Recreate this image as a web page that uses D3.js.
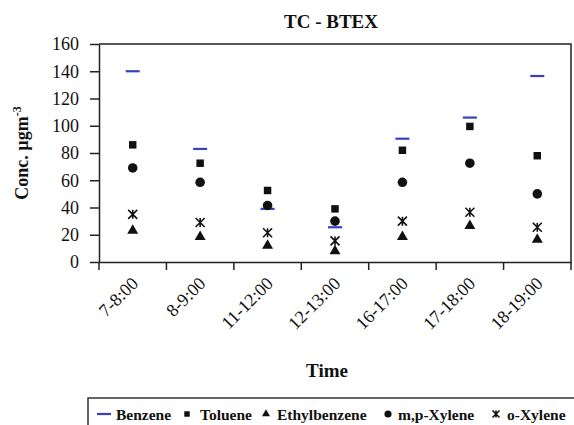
<!DOCTYPE html>
<html><head><meta charset="utf-8">
<script src="https://cdn.jsdelivr.net/npm/d3@7"></script>
<style>body{margin:0;background:#fff}svg{display:block}text{font-family:"Liberation Serif","Times New Roman",serif;fill:#111}</style>
</head><body><div id="chart"></div>
<script>
const categories = ["7-8:00","8-9:00","11-12:00","12-13:00","16-17:00","17-18:00","18-19:00"];
const benzene = [140, 83, 39, 25.5, 90.5, 106, 136.5];
const toluene = [86, 72.5, 52.5, 39, 82, 99.5, 78];
const ethylbenzene = [23, 18.5, 12, 8, 18.5, 26.5, 16.5];
const mpXylene = [69, 58.5, 41.5, 30, 58.5, 72.5, 50];
const oXylene = [35, 29, 21.5, 15.5, 30, 36.5, 25.5];
const yTicks = [0,20,40,60,80,100,120,140,160];
const seriesNames = ["Benzene","Toluene","Ethylbenzene","m,p-Xylene","o-Xylene"];

const W = 574, H = 425;
const m = {l: 99, r: 3, t: 44, b: 163};
const svg = d3.select("#chart").append("svg").attr("width", W).attr("height", H);
const x = d3.scaleBand().domain(categories).range([m.l, W - m.r]);
const y = d3.scaleLinear().domain([0,160]).range([H - m.b, m.t]);

// frame top/right
svg.append("path").attr("d", `M${m.l},${m.t}H${W-m.r}V${H-m.b}`).attr("fill","none").attr("stroke","#222").attr("stroke-width",1.5);

const yAx = svg.append("g").attr("transform",`translate(${m.l},0)`)
  .call(d3.axisLeft(y).tickValues(yTicks).tickSize(9).tickPadding(11).tickSizeOuter(0))
  .attr("font-family", null).attr("font-size", null);
yAx.selectAll("text").style("font-size","18px").style("font-family","'Liberation Serif', serif");
const xAx = svg.append("g").attr("transform",`translate(0,${H-m.b})`)
  .call(d3.axisBottom(x).tickSize(0).tickSizeOuter(0))
  .attr("font-family", null).attr("font-size", null);
xAx.selectAll("text").style("font-size","18px").style("font-family","'Liberation Serif', serif").attr("text-anchor","end")
  .attr("transform","translate(0,16) rotate(-45)").attr("dy","0.35em").attr("dx","0");
// ticks at band boundaries
const bounds = categories.map(c => x(c)).concat([x.range()[1]]);
xAx.selectAll(".bt").data(bounds).join("line").attr("class","bt")
  .attr("x1",d=>d).attr("x2",d=>d).attr("y1",0).attr("y2",8).attr("stroke","#222").attr("stroke-width",1.5);
svg.selectAll(".domain").attr("stroke","#222").attr("stroke-width",1.5);
svg.selectAll(".tick line").attr("stroke","#222").attr("stroke-width",1.5);

const cx = c => x(c) + x.bandwidth()/2;
// markers
const sym = {
  sq: d3.symbol().type(d3.symbolSquare).size(56),
  tri: d3.symbol().type(d3.symbolTriangle).size(52),
  circ: d3.symbol().type(d3.symbolCircle).size(72)
};
function star(g, s) {
  g.append("path").attr("d",`M${-s},${-s}L${s},${s}M${-s},${s}L${s},${-s}M0,${-s}V${s}`)
   .attr("stroke","#111").attr("stroke-width",1.6).attr("fill","none");
}
function dash(g, w) {
  g.append("line").attr("x1",-w/2).attr("x2",w/2).attr("stroke","#3a3fc0").attr("stroke-width",2.2);
}
categories.forEach((c,i) => {
  dash(svg.append("g").attr("transform",`translate(${cx(c)},${y(benzene[i])})`), 14);
  svg.append("path").attr("d",sym.sq()).attr("transform",`translate(${cx(c)},${y(toluene[i])})`).attr("fill","#111");
  svg.append("path").attr("d",sym.tri()).attr("transform",`translate(${cx(c)},${y(ethylbenzene[i])})`).attr("fill","#111");
  svg.append("path").attr("d",sym.circ()).attr("transform",`translate(${cx(c)},${y(mpXylene[i])})`).attr("fill","#111");
  star(svg.append("g").attr("transform",`translate(${cx(c)},${y(oXylene[i])})`), 4.5);
});

// titles
svg.append("text").attr("x",331).attr("y",28).attr("text-anchor","middle").style("font-size","19px").style("font-weight","bold").text("TC - BTEX");
svg.append("text").attr("x",327).attr("y",377).attr("text-anchor","middle").style("font-size","19px").style("font-weight","bold").text("Time");
const yt = svg.append("text").attr("transform",`translate(28,${(m.t + H - m.b)/2}) rotate(-90)`).attr("text-anchor","middle").style("font-size","18px").style("font-weight","bold");
yt.append("tspan").text("Conc. µgm");
yt.append("tspan").attr("dy","-7").style("font-size","12px").text("-3");

// legend
const lg = svg.append("g");
lg.append("rect").attr("x",88).attr("y",398).attr("width",W-88+5).attr("height",40).attr("fill","none").attr("stroke","#333").attr("stroke-width",1.5);
const ly = 414;
const items = [
  {mx:104, tx:116}, {mx:187, tx:200}, {mx:266, tx:277}, {mx:388, tx:398}, {mx:496, tx:507}
];
dash(lg.append("g").attr("transform",`translate(${items[0].mx},${ly})`), 14);
lg.append("path").attr("d",d3.symbol().type(d3.symbolSquare).size(30)()).attr("transform",`translate(${items[1].mx},${ly})`).attr("fill","#111");
lg.append("path").attr("d",d3.symbol().type(d3.symbolTriangle).size(28)()).attr("transform",`translate(${items[2].mx},${ly})`).attr("fill","#111");
lg.append("path").attr("d",d3.symbol().type(d3.symbolCircle).size(40)()).attr("transform",`translate(${items[3].mx},${ly})`).attr("fill","#111");
star(lg.append("g").attr("transform",`translate(${items[4].mx},${ly})`), 3.5);
seriesNames.forEach((n,i) => {
  lg.append("text").attr("x",items[i].tx).attr("y",ly+6).style("font-size","15.5px").style("font-weight","bold").text(n);
});
</script></body></html>
